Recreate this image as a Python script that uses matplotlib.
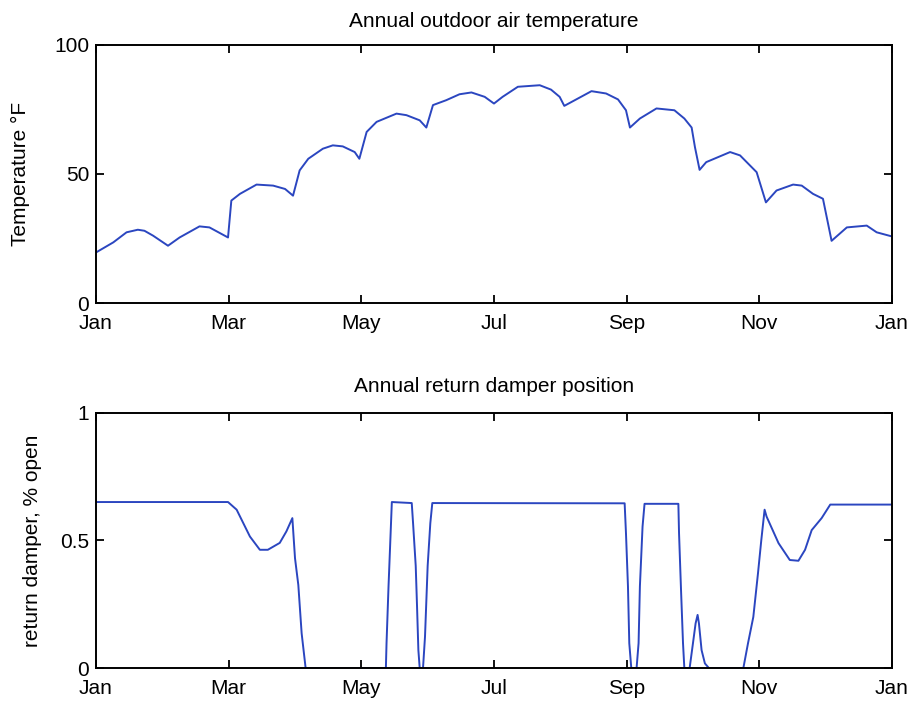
import matplotlib
matplotlib.use("Agg")
import matplotlib.pyplot as plt

plt.rcParams['font.family'] = ['Liberation Sans', 'DejaVu Sans']

# x positions in months from 1 Jan (0 = Jan, 12 = next Jan)
month_ticks = [0, 2, 4, 6, 8, 10, 12]
month_labels = ['Jan', 'Mar', 'May', 'Jul', 'Sep', 'Nov', 'Jan']

temp_month = [0.0, 0.26, 0.46, 0.63, 0.73, 0.86, 1.085, 1.26, 1.56, 1.71, 1.99,
              2.04, 2.17, 2.42, 2.67, 2.85, 2.97,
              3.07, 3.2, 3.42, 3.57, 3.72, 3.9, 3.97,
              4.08, 4.23, 4.53, 4.68, 4.88, 4.98,
              5.08, 5.28, 5.48, 5.66, 5.86, 6.0,
              6.13, 6.36, 6.69, 6.86, 6.99, 7.06,
              7.24, 7.47, 7.69, 7.87, 7.99, 8.05,
              8.2, 8.45, 8.72, 8.87, 8.98, 9.03, 9.1,
              9.2, 9.56, 9.71, 9.96, 10.1,
              10.26, 10.51, 10.64, 10.81, 10.96, 11.09,
              11.32, 11.62, 11.77, 12.0]
temp_value = [19.6, 23.5, 27.4, 28.4, 28.0, 26.1, 22.2, 25.4, 29.7, 29.3, 25.4,
              39.7, 42.3, 45.9, 45.5, 44.2, 41.6,
              51.4, 55.9, 59.8, 61.1, 60.7, 58.5, 55.9,
              66.3, 70.2, 73.4, 72.8, 70.8, 68.0,
              76.7, 78.6, 80.9, 81.6, 79.9, 77.3,
              79.9, 83.8, 84.4, 82.7, 79.9, 76.4,
              78.9, 82.1, 81.2, 78.9, 74.7, 68.0,
              71.5, 75.4, 74.7, 71.5, 68.0, 60.4, 51.6,
              54.6, 58.5, 57.2, 50.7, 39.0,
              43.6, 45.9, 45.5, 42.3, 40.4, 24.1,
              29.3, 30.0, 27.4, 25.8]

damper_month = [0.0, 1.99, 2.12, 2.32, 2.47, 2.59, 2.77, 2.87, 2.96, 3.0, 3.05, 3.1, 3.16,
                4.37, 4.38, 4.41, 4.46, 4.76, 4.78, 4.82, 4.84, 4.86, 4.88,
                4.93, 4.96, 5.0, 5.04, 5.07, 7.97, 7.99, 8.02, 8.04, 8.07,
                8.15, 8.18, 8.2, 8.24, 8.27, 8.78, 8.79, 8.82, 8.85, 8.87,
                8.95, 9.0, 9.04, 9.07, 9.09, 9.13, 9.18, 9.24,
                9.76, 9.83, 9.91, 9.98, 10.03, 10.08, 10.11, 10.29, 10.46, 10.59,
                10.69, 10.79, 10.94, 11.07, 12.0]
damper_value = [0.65, 0.65, 0.62, 0.515, 0.463, 0.463, 0.49, 0.535, 0.587, 0.43, 0.325, 0.136, 0.0,
                0.0, 0.098, 0.32, 0.65, 0.646, 0.567, 0.4, 0.24, 0.07, 0.0,
                0.0, 0.123, 0.4, 0.567, 0.646, 0.645, 0.528, 0.32, 0.097, 0.0,
                0.0, 0.097, 0.32, 0.554, 0.643, 0.643, 0.528, 0.306, 0.097, 0.0,
                0.0, 0.097, 0.175, 0.208, 0.175, 0.07, 0.018, 0.0,
                0.0, 0.097, 0.2, 0.37, 0.5, 0.62, 0.593, 0.489, 0.423, 0.42,
                0.463, 0.54, 0.587, 0.64, 0.64]

line_color = '#2b46c0'
fs = 15

fig = plt.figure(figsize=(9.12, 7.06), dpi=100)
ax1 = fig.add_axes([0.1053, 0.5708, 0.8727, 0.3655])
ax2 = fig.add_axes([0.1053, 0.0538, 0.8727, 0.3617])

ax1.plot(temp_month, temp_value, color=line_color, linewidth=1.4)
ax1.set_ylim(0, 100)
ax1.set_yticks([0, 50, 100])
ax1.set_yticklabels(['0', '50', '100'])
ax1.set_ylabel('Temperature °F', fontsize=fs, labelpad=17)
ax1.set_title('Annual outdoor air temperature', fontsize=fs, pad=13)

ax2.plot(damper_month, damper_value, color=line_color, linewidth=1.4)
ax2.set_ylim(0, 1)
ax2.set_yticks([0, 0.5, 1])
ax2.set_yticklabels(['0', '0.5', '1'])
ax2.set_ylabel('return damper, % open', fontsize=fs, labelpad=13)
ax2.set_title('Annual return damper position', fontsize=fs, pad=15)

for ax in (ax1, ax2):
    ax.set_xlim(0, 12)
    ax.set_xticks(month_ticks)
    ax.set_xticklabels(month_labels)
    ax.tick_params(direction='in', length=6, width=1.3, top=True, right=True,
                   labelsize=fs, pad=5)
    ax.tick_params(axis='x', pad=8)
    for s in ax.spines.values():
        s.set_linewidth(1.4)
        s.set_color('black')

fig.savefig('out.png', dpi=100)
